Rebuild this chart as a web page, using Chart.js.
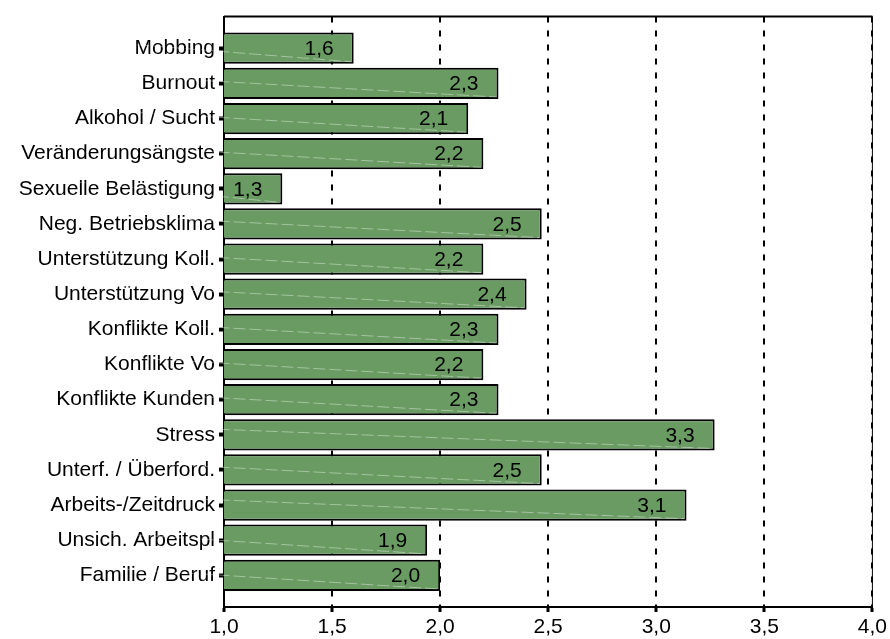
<!DOCTYPE html>
<html>
<head>
<meta charset="utf-8">
<title>Belastungsfaktoren</title>
<script src="https://cdn.jsdelivr.net/npm/chart.js@4/dist/chart.umd.min.js"></script>
<style>
  html, body { margin: 0; padding: 0; background: #fff; }
  canvas { display: block; }
</style>
</head>
<body>
<canvas id="myChart" width="890" height="639"></canvas>
<script>
// categories, top to bottom
const categories = [
    'Mobbing',
    'Burnout',
    'Alkohol / Sucht',
    'Veränderungsängste',
    'Sexuelle Belästigung',
    'Neg. Betriebsklima',
    'Unterstützung Koll.',
    'Unterstützung Vo',
    'Konflikte Koll.',
    'Konflikte Vo',
    'Konflikte Kunden',
    'Stress',
    'Unterf. / Überford.',
    'Arbeits-/Zeitdruck',
    'Unsich. Arbeitspl',
    'Familie / Beruf'
];

// mean scores
const scores = [1.60, 2.27, 2.13, 2.20, 1.27, 2.47, 2.20, 2.40, 2.27, 2.20, 2.27, 3.27, 2.47, 3.14, 1.94, 2.00];

// x axis ticks
const xTicks = [1.0, 1.5, 2.0, 2.5, 3.0, 3.5, 4.0];

const FONT = { family: '"Liberation Sans", Arial, sans-serif', size: 21 };

function fmt(v) {
    return v.toFixed(1).replace('.', ',');
}

// top + right frame of the plot box
const frame = {
    id: 'frame',
    beforeDatasetsDraw(chart) {
        const { ctx, chartArea: a } = chart;
        ctx.save();
        ctx.strokeStyle = '#000';
        ctx.lineWidth = 2;
        ctx.beginPath();
        ctx.moveTo(a.left, a.top);
        ctx.lineTo(a.right, a.top);
        ctx.stroke();
        ctx.lineWidth = 1;
        ctx.beginPath();
        ctx.moveTo(a.right, a.top);
        ctx.lineTo(a.right, a.bottom);
        ctx.stroke();
        ctx.restore();
    }
};

// faint diagonal streak in each bar + value label at the bar end
const barLabels = {
    id: 'barLabels',
    afterDatasetsDraw(chart) {
        const { ctx } = chart;
        const meta = chart.getDatasetMeta(0);
        ctx.save();
        meta.data.forEach((bar, i) => {
            const h = bar.height / 2 - 2;
            ctx.strokeStyle = 'rgba(255,255,255,0.4)';
            ctx.lineWidth = 1;
            ctx.setLineDash([12, 4]);
            ctx.beginPath();
            ctx.moveTo(bar.base + 2, bar.y - h);
            ctx.lineTo(bar.x - 2, bar.y + h);
            ctx.stroke();

            ctx.setLineDash([]);
            ctx.fillStyle = '#000';
            ctx.font = FONT.size + 'px ' + FONT.family;
            ctx.textAlign = 'right';
            ctx.textBaseline = 'middle';
            ctx.fillText(fmt(scores[i]), bar.x - 20, bar.y + 1);
        });
        ctx.restore();
    }
};

new Chart(document.getElementById('myChart'), {
    type: 'bar',
    data: {
        datasets: [{
            data: scores.map((v, i) => ({ x: v, y: i })),
            backgroundColor: '#699b62',
            borderColor: '#000',
            borderWidth: 2,
            borderSkipped: false,
            categoryPercentage: 1,
            barPercentage: 0.89
        }]
    },
    options: {
        indexAxis: 'y',
        responsive: false,
        animation: false,
        devicePixelRatio: 1,
        layout: { padding: { top: 15, right: 15, left: 0, bottom: 0 } },
        plugins: {
            legend: { display: false },
            tooltip: { enabled: false }
        },
        scales: {
            x: {
                type: 'linear',
                min: 1,
                max: 4,
                afterBuildTicks: (scale) => { scale.ticks = xTicks.map(v => ({ value: v })); },
                afterFit: (scale) => { scale.height = 32; },
                ticks: {
                    color: '#000',
                    font: FONT,
                    padding: 3,
                    maxRotation: 0,
                    callback: (v) => fmt(v)
                },
                grid: {
                    color: '#000',
                    lineWidth: 2,
                    drawTicks: true,
                    tickLength: 5,
                    tickWidth: 3,
                    tickColor: '#000',
                    tickBorderDash: []
                },
                border: { display: true, color: '#000', width: 2, dash: [6, 8] }
            },
            y: {
                type: 'linear',
                reverse: true,
                offset: false,
                min: -0.9,
                max: 15.9,
                afterBuildTicks: (scale) => { scale.ticks = categories.map((c, i) => ({ value: i })); },
                afterFit: (scale) => { scale.width = 224; },
                ticks: {
                    color: '#000',
                    font: FONT,
                    padding: 4,
                    autoSkip: false,
                    callback: (v) => categories[v]
                },
                grid: {
                    offset: false,
                    drawOnChartArea: false,
                    drawTicks: true,
                    tickLength: 5,
                    tickWidth: 4,
                    tickColor: '#000'
                },
                border: { display: true, color: '#000', width: 2 }
            }
        }
    },
    plugins: [frame, barLabels]
});
</script>
</body>
</html>
